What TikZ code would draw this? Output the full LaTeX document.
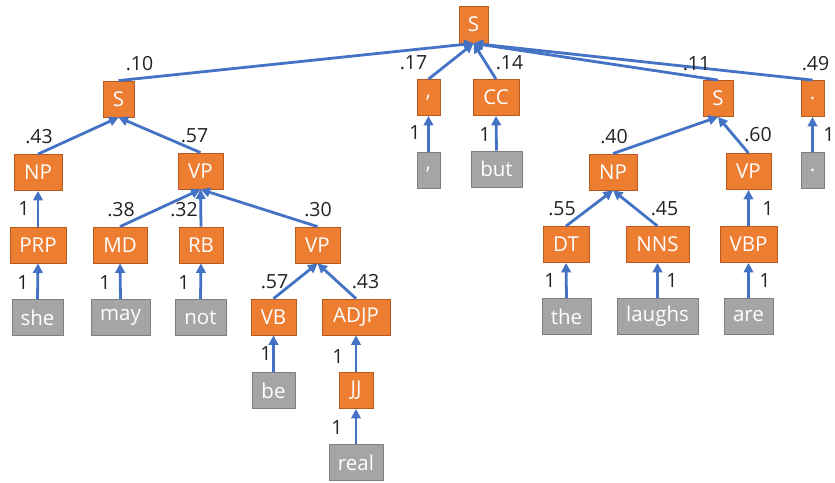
\documentclass[tikz,border=0pt]{standalone}
\usepackage{fontspec}
\setmainfont{Open Sans}
\usetikzlibrary{arrows.meta}
\definecolor{org}{HTML}{ED7D31}
\definecolor{orgb}{HTML}{B85A1E}
\definecolor{gry}{HTML}{A5A5A5}
\definecolor{gryb}{HTML}{7F7F7F}
\definecolor{blu}{HTML}{4472C4}
\definecolor{ink}{HTML}{222222}
\begin{document}
\begin{tikzpicture}[x=1pt,y=-1pt,
 tag/.style={draw=orgb, fill=org, text=white, line width=0.8pt, inner sep=0pt, minimum height=36pt, font=\fontsize{20.5}{24}\selectfont},
 word/.style={tag, draw=gryb, fill=gry},
 lab/.style={font=\fontsize{19.5}{22}\selectfont, text=ink, inner sep=0pt},
 arr/.style={blu, line width=2.8pt, -{Triangle[length=9.5pt,width=9.5pt]}}]
\useasboundingbox (0,0) rectangle (835,482);
% tags
\node[tag, minimum width=29pt, minimum height=37pt] (root) at (473.5,24.5) {S};
\node[tag, minimum width=31pt] (S1) at (118.5,99) {S};
\node[tag, minimum width=48pt] (NP1) at (38,172.5) {NP};
\node[tag, minimum width=45pt] (VP1) at (200.5,171) {VP};
\node[tag, minimum width=56pt] (PRP) at (38,245) {PRP};
\node[tag, minimum width=54pt] (MD) at (120,245) {MD};
\node[tag, minimum width=44pt] (RB) at (201,245) {RB};
\node[tag, minimum width=45pt] (VP2) at (317.5,245) {VP};
\node[tag, minimum width=45pt] (VB) at (273.5,317) {VB};
\node[tag, minimum width=68pt] (ADJP) at (356,317) {ADJP};
\node[tag, minimum width=34pt] (JJ) at (356,390.5) {JJ};
\node[tag, minimum width=23pt] (comma) at (428.5,97.5) {,};
\node[tag, minimum width=46pt] (CC) at (496,97.5) {CC};
\node[tag, minimum width=30pt] (S2) at (718,98.5) {S};
\node[tag, minimum width=23pt] (dot) at (812.5,98.5) {.};
\node[tag, minimum width=48pt] (NP2) at (613,172) {NP};
\node[tag, minimum width=45pt] (VP3) at (748.5,171.5) {VP};
\node[tag, minimum width=46pt] (DT) at (566,244.5) {DT};
\node[tag, minimum width=63pt] (NNS) at (657.5,244.5) {NNS};
\node[tag, minimum width=57pt] (VBP) at (748.5,244.5) {VBP};
% words
\node[word, minimum width=51pt] (she) at (37.5,317.5) {she};
\node[word, minimum width=59pt] (may) at (120.5,317.5) {may};
\node[word, minimum width=51pt] (not) at (200.5,317.5) {not};
\node[word, minimum width=43pt] (be) at (273.5,390.5) {be};
\node[word, minimum width=54pt] (real) at (356,462.5) {real};
\node[word, minimum width=23pt] (wcomma) at (428.5,170) {,};
\node[word, minimum width=51pt] (but) at (496.5,169) {but};
\node[word, minimum width=23pt] (wdot) at (812.5,170.5) {.};
\node[word, minimum width=49pt] (the) at (566.5,316.5) {the};
\node[word, minimum width=81pt] (laughs) at (657.5,316.5) {laughs};
\node[word, minimum width=49pt] (are) at (748.5,316.5) {are};
% edges
\foreach \c/\p in {S1/root, comma/root, CC/root, S2/root, dot/root,
  NP1/S1, VP1/S1, PRP/NP1, she/PRP, MD/VP1, RB/VP1, VP2/VP1,
  may/MD, not/RB, VB/VP2, ADJP/VP2, be/VB, JJ/ADJP, real/JJ,
  wcomma/comma, but/CC, NP2/S2, VP3/S2, wdot/dot,
  DT/NP2, NNS/NP2, VBP/VP3, the/DT, laughs/NNS, are/VBP}
  \draw[arr] (\c.north) -- (\p.south);
% labels
\node[lab] (l1) at (139.5,64) {.10};
\node[lab] (l2) at (413.5,63) {.17};
\node[lab] (l3) at (509.5,63) {.14};
\node[lab] (l4) at (696.5,63.5) {.11};
\node[lab] (l5) at (815.5,63.5) {.49};
\node[lab] (l6) at (39,136.5) {.43};
\node[lab] (l7) at (194.5,136) {.57};
\node[lab] (l8) at (415,133) {1};
\node[lab] (l9) at (485,135) {1};
\node[lab] (l10) at (614,137) {.40};
\node[lab] (l11) at (758,135) {.60};
\node[lab] (l12) at (829,135) {1};
\node[lab] (l13) at (24,209) {1};
\node[lab] (l14) at (23,283) {1};
\node[lab] (l15) at (121,210) {.38};
\node[lab] (l16) at (184,210) {.32};
\node[lab] (l17) at (318,210) {.30};
\node[lab] (l18) at (105,283) {1};
\node[lab] (l19) at (184,283) {1};
\node[lab] (l20) at (274.5,282) {.57};
\node[lab] (l21) at (365.5,282) {.43};
\node[lab] (l22) at (266,354) {1};
\node[lab] (l23) at (338,357) {1};
\node[lab] (l24) at (337,428) {1};
\node[lab] (l25) at (562,209) {.55};
\node[lab] (l26) at (664.5,209) {.45};
\node[lab] (l27) at (768,209) {1};
\node[lab] (l28) at (550,281) {1};
\node[lab] (l29) at (672,281) {1};
\node[lab] (l30) at (765,281) {1};
\end{tikzpicture}
\end{document}
